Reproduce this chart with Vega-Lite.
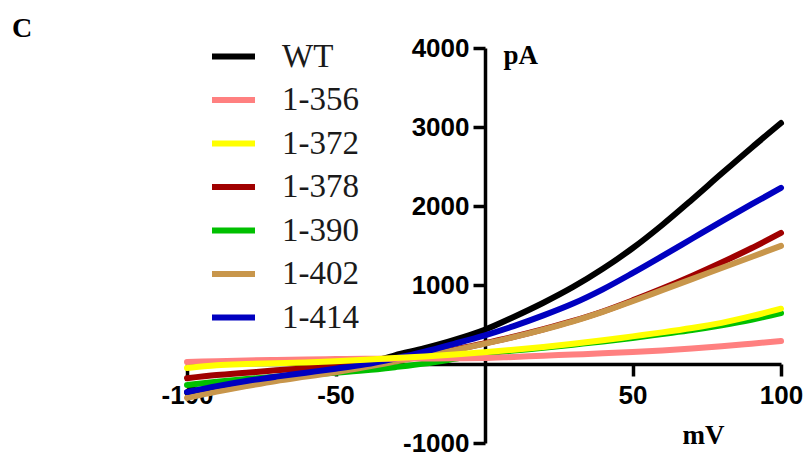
{
  "$schema": "https://vega.github.io/schema/vega-lite/v6.json",
  "width": 594,
  "height": 395,
  "autosize": "none",
  "padding": {"left": 187, "top": 48, "right": 30, "bottom": 15},
  "background": "white",
  "title": {"text": "C", "anchor": "start", "frame": "group", "orient": "top", "font": "Liberation Serif", "fontSize": 28, "fontWeight": "bold", "color": "#000000", "dx": -175, "dy": 44, "offset": 11, "baseline": "alphabetic"},
  "config": {"view": {"stroke": null}},
  "datasets": {
    "iv": [
      {"s": "WT", "mV": -100, "pA": -360}, {"s": "WT", "mV": -90, "pA": -290}, {"s": "WT", "mV": -80, "pA": -225}, {"s": "WT", "mV": -70, "pA": -170}, {"s": "WT", "mV": -60, "pA": -115}, {"s": "WT", "mV": -50, "pA": -60}, {"s": "WT", "mV": -40, "pA": 5}, {"s": "WT", "mV": -30, "pA": 110}, {"s": "WT", "mV": -20, "pA": 200}, {"s": "WT", "mV": -10, "pA": 305}, {"s": "WT", "mV": 0, "pA": 430}, {"s": "WT", "mV": 10, "pA": 595}, {"s": "WT", "mV": 20, "pA": 775}, {"s": "WT", "mV": 30, "pA": 975}, {"s": "WT", "mV": 40, "pA": 1205}, {"s": "WT", "mV": 50, "pA": 1465}, {"s": "WT", "mV": 60, "pA": 1760}, {"s": "WT", "mV": 70, "pA": 2080}, {"s": "WT", "mV": 80, "pA": 2410}, {"s": "WT", "mV": 90, "pA": 2735}, {"s": "WT", "mV": 100, "pA": 3050},
      {"s": "1-390", "mV": -100, "pA": -265}, {"s": "1-390", "mV": -90, "pA": -225}, {"s": "1-390", "mV": -80, "pA": -190}, {"s": "1-390", "mV": -70, "pA": -160}, {"s": "1-390", "mV": -60, "pA": -135}, {"s": "1-390", "mV": -50, "pA": -110}, {"s": "1-390", "mV": -40, "pA": -80}, {"s": "1-390", "mV": -30, "pA": -40}, {"s": "1-390", "mV": -20, "pA": 5}, {"s": "1-390", "mV": -10, "pA": 65}, {"s": "1-390", "mV": 0, "pA": 130}, {"s": "1-390", "mV": 10, "pA": 170}, {"s": "1-390", "mV": 20, "pA": 205}, {"s": "1-390", "mV": 30, "pA": 245}, {"s": "1-390", "mV": 40, "pA": 285}, {"s": "1-390", "mV": 50, "pA": 330}, {"s": "1-390", "mV": 60, "pA": 380}, {"s": "1-390", "mV": 70, "pA": 430}, {"s": "1-390", "mV": 80, "pA": 490}, {"s": "1-390", "mV": 90, "pA": 560}, {"s": "1-390", "mV": 100, "pA": 645},
      {"s": "1-378", "mV": -100, "pA": -180}, {"s": "1-378", "mV": -90, "pA": -140}, {"s": "1-378", "mV": -80, "pA": -110}, {"s": "1-378", "mV": -70, "pA": -80}, {"s": "1-378", "mV": -60, "pA": -55}, {"s": "1-378", "mV": -50, "pA": -30}, {"s": "1-378", "mV": -40, "pA": 10}, {"s": "1-378", "mV": -30, "pA": 60}, {"s": "1-378", "mV": -20, "pA": 115}, {"s": "1-378", "mV": -10, "pA": 180}, {"s": "1-378", "mV": 0, "pA": 260}, {"s": "1-378", "mV": 10, "pA": 345}, {"s": "1-378", "mV": 20, "pA": 440}, {"s": "1-378", "mV": 30, "pA": 545}, {"s": "1-378", "mV": 40, "pA": 665}, {"s": "1-378", "mV": 50, "pA": 805}, {"s": "1-378", "mV": 60, "pA": 955}, {"s": "1-378", "mV": 70, "pA": 1115}, {"s": "1-378", "mV": 80, "pA": 1285}, {"s": "1-378", "mV": 90, "pA": 1465}, {"s": "1-378", "mV": 100, "pA": 1660},
      {"s": "1-402", "mV": -100, "pA": -430}, {"s": "1-402", "mV": -90, "pA": -350}, {"s": "1-402", "mV": -80, "pA": -280}, {"s": "1-402", "mV": -70, "pA": -215}, {"s": "1-402", "mV": -60, "pA": -160}, {"s": "1-402", "mV": -50, "pA": -105}, {"s": "1-402", "mV": -40, "pA": -40}, {"s": "1-402", "mV": -30, "pA": 30}, {"s": "1-402", "mV": -20, "pA": 100}, {"s": "1-402", "mV": -10, "pA": 175}, {"s": "1-402", "mV": 0, "pA": 255}, {"s": "1-402", "mV": 10, "pA": 340}, {"s": "1-402", "mV": 20, "pA": 435}, {"s": "1-402", "mV": 30, "pA": 540}, {"s": "1-402", "mV": 40, "pA": 660}, {"s": "1-402", "mV": 50, "pA": 795}, {"s": "1-402", "mV": 60, "pA": 935}, {"s": "1-402", "mV": 70, "pA": 1075}, {"s": "1-402", "mV": 80, "pA": 1215}, {"s": "1-402", "mV": 90, "pA": 1355}, {"s": "1-402", "mV": 100, "pA": 1495},
      {"s": "1-414", "mV": -100, "pA": -355}, {"s": "1-414", "mV": -90, "pA": -280}, {"s": "1-414", "mV": -80, "pA": -215}, {"s": "1-414", "mV": -70, "pA": -160}, {"s": "1-414", "mV": -60, "pA": -110}, {"s": "1-414", "mV": -50, "pA": -60}, {"s": "1-414", "mV": -40, "pA": -5}, {"s": "1-414", "mV": -30, "pA": 70}, {"s": "1-414", "mV": -20, "pA": 155}, {"s": "1-414", "mV": -10, "pA": 255}, {"s": "1-414", "mV": 0, "pA": 360}, {"s": "1-414", "mV": 10, "pA": 480}, {"s": "1-414", "mV": 20, "pA": 615}, {"s": "1-414", "mV": 30, "pA": 765}, {"s": "1-414", "mV": 40, "pA": 945}, {"s": "1-414", "mV": 50, "pA": 1150}, {"s": "1-414", "mV": 60, "pA": 1365}, {"s": "1-414", "mV": 70, "pA": 1585}, {"s": "1-414", "mV": 80, "pA": 1805}, {"s": "1-414", "mV": 90, "pA": 2020}, {"s": "1-414", "mV": 100, "pA": 2230},
      {"s": "1-356", "mV": -100, "pA": 25}, {"s": "1-356", "mV": -90, "pA": 35}, {"s": "1-356", "mV": -80, "pA": 45}, {"s": "1-356", "mV": -70, "pA": 52}, {"s": "1-356", "mV": -60, "pA": 58}, {"s": "1-356", "mV": -50, "pA": 62}, {"s": "1-356", "mV": -40, "pA": 66}, {"s": "1-356", "mV": -30, "pA": 68}, {"s": "1-356", "mV": -20, "pA": 70}, {"s": "1-356", "mV": -10, "pA": 72}, {"s": "1-356", "mV": 0, "pA": 75}, {"s": "1-356", "mV": 10, "pA": 90}, {"s": "1-356", "mV": 20, "pA": 105}, {"s": "1-356", "mV": 30, "pA": 120}, {"s": "1-356", "mV": 40, "pA": 135}, {"s": "1-356", "mV": 50, "pA": 152}, {"s": "1-356", "mV": 60, "pA": 172}, {"s": "1-356", "mV": 70, "pA": 197}, {"s": "1-356", "mV": 80, "pA": 225}, {"s": "1-356", "mV": 90, "pA": 257}, {"s": "1-356", "mV": 100, "pA": 290},
      {"s": "1-372", "mV": -100, "pA": -50}, {"s": "1-372", "mV": -90, "pA": -15}, {"s": "1-372", "mV": -80, "pA": 0}, {"s": "1-372", "mV": -70, "pA": 10}, {"s": "1-372", "mV": -60, "pA": 20}, {"s": "1-372", "mV": -50, "pA": 35}, {"s": "1-372", "mV": -40, "pA": 55}, {"s": "1-372", "mV": -30, "pA": 75}, {"s": "1-372", "mV": -20, "pA": 95}, {"s": "1-372", "mV": -10, "pA": 120}, {"s": "1-372", "mV": 0, "pA": 148}, {"s": "1-372", "mV": 10, "pA": 180}, {"s": "1-372", "mV": 20, "pA": 215}, {"s": "1-372", "mV": 30, "pA": 255}, {"s": "1-372", "mV": 40, "pA": 300}, {"s": "1-372", "mV": 50, "pA": 350}, {"s": "1-372", "mV": 60, "pA": 400}, {"s": "1-372", "mV": 70, "pA": 455}, {"s": "1-372", "mV": 80, "pA": 520}, {"s": "1-372", "mV": 90, "pA": 605}, {"s": "1-372", "mV": 100, "pA": 700}
    ]
  },
  "data": {"name": "iv"},
  "mark": {"type": "line", "strokeWidth": 6, "strokeCap": "round", "strokeJoin": "round", "interpolate": "monotone", "clip": false},
  "encoding": {
    "x": {
      "field": "mV", "type": "quantitative",
      "scale": {"domain": [-100, 100], "nice": false, "zero": false},
      "axis": {
        "offset": -79, "values": [-100, -50, 50, 100], "grid": false, "labelExpr": "'' + datum.value",
        "title": "mV", "titleX": 495, "titleY": 79, "titleAlign": "left", "titleBaseline": "alphabetic",
        "titleFont": "Liberation Serif", "titleFontSize": 27, "titleFontWeight": "bold", "titleColor": "#000000",
        "labelFont": "Liberation Sans", "labelFontSize": 26, "labelFontWeight": "bold", "labelColor": "#000000",
        "labelPadding": 6, "labelFlush": false, "labelOverlap": false,
        "domainColor": "#000000", "domainWidth": 3.5, "tickColor": "#000000", "tickWidth": 3.5, "tickSize": 12
      }
    },
    "y": {
      "field": "pA", "type": "quantitative",
      "scale": {"domain": [-1000, 4000], "nice": false, "zero": false},
      "axis": {
        "offset": -298, "values": [-1000, 1000, 2000, 3000, 4000], "grid": false, "labelExpr": "'' + datum.value",
        "title": "pA", "titleAngle": 0, "titleX": 18, "titleY": 15, "titleAlign": "left", "titleBaseline": "alphabetic",
        "titleFont": "Liberation Serif", "titleFontSize": 27, "titleFontWeight": "bold", "titleColor": "#000000",
        "labelFont": "Liberation Sans", "labelFontSize": 26, "labelFontWeight": "bold", "labelColor": "#000000",
        "labelPadding": 4, "labelFlush": false, "labelOverlap": false,
        "domainColor": "#000000", "domainWidth": 3.5, "tickColor": "#000000", "tickWidth": 3.5, "tickSize": 12
      }
    },
    "color": {
      "field": "s", "type": "nominal",
      "scale": {
        "domain": ["WT", "1-356", "1-372", "1-378", "1-390", "1-402", "1-414"],
        "range": ["#000000", "#ff8080", "#ffff00", "#a00000", "#00c000", "#c8964b", "#0000c0"]
      },
      "legend": {
        "orient": "none", "legendX": 22, "legendY": -16, "title": null,
        "symbolType": "stroke", "symbolSize": 1849, "symbolStrokeWidth": 6,
        "labelFont": "Liberation Serif", "labelFontSize": 33, "labelColor": "#1a1a1a",
        "labelOffset": 24, "rowPadding": 1.5
      }
    }
  }
}
